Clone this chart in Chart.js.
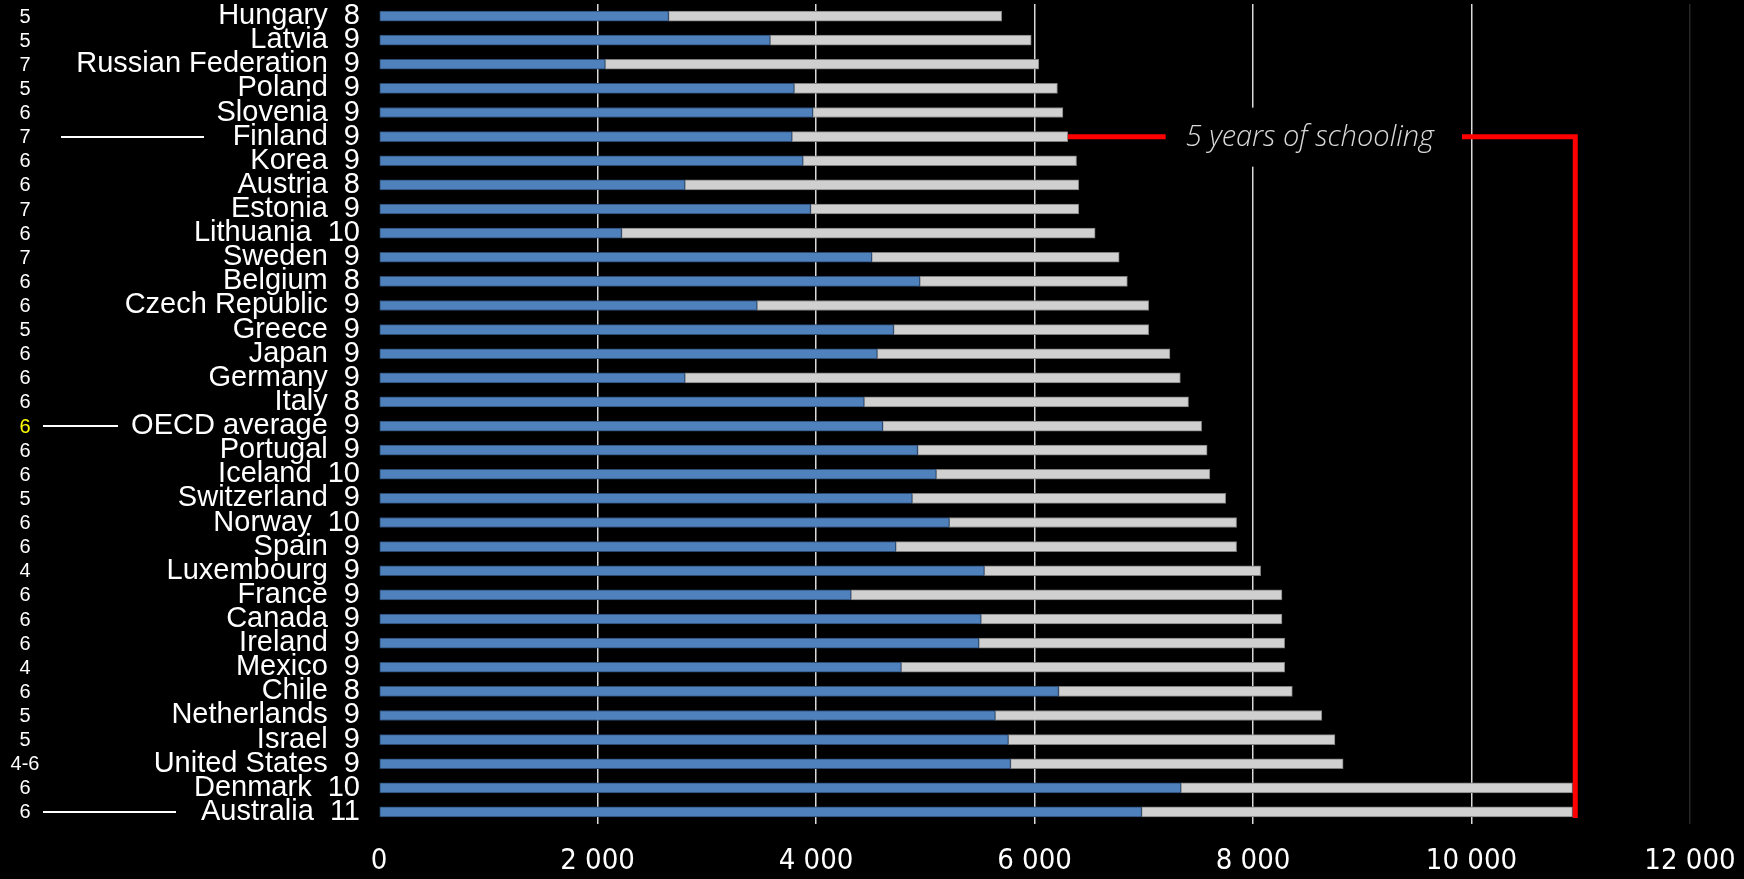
<!DOCTYPE html>
<html>
<head>
<meta charset="utf-8">
<title>Instruction time in compulsory education</title>
<script src="https://cdn.jsdelivr.net/npm/chart.js@4.4.1/dist/chart.umd.min.js"></script>
<style>
    html, body { margin: 0; padding: 0; background: #000; }
    #wrap { width: 1744px; height: 879px; position: relative; }
</style>
</head>
<body>
<div id="wrap"><canvas id="timeChart"></canvas></div>
<script>
// ===== DATA =====
const countries = [
    'Hungary', 'Latvia', 'Russian Federation', 'Poland', 'Slovenia', 'Finland',
    'Korea', 'Austria', 'Estonia', 'Lithuania', 'Sweden', 'Belgium',
    'Czech Republic', 'Greece', 'Japan', 'Germany', 'Italy', 'OECD average',
    'Portugal', 'Iceland', 'Switzerland', 'Norway', 'Spain', 'Luxembourg',
    'France', 'Canada', 'Ireland', 'Mexico', 'Chile', 'Netherlands',
    'Israel', 'United States', 'Denmark', 'Australia'
];
const compulsoryYears = [8, 9, 9, 9, 9, 9, 9, 8, 9, 10, 9, 8, 9, 9, 9, 9, 8, 9,
                         9, 10, 9, 10, 9, 9, 9, 9, 9, 9, 8, 9, 9, 9, 10, 11];
const startAge = ['5', '5', '7', '5', '6', '7', '6', '6', '7', '6', '7', '6',
                  '6', '5', '6', '6', '6', '6', '6', '6', '5', '6', '6', '4',
                  '6', '6', '6', '4', '6', '5', '5', '4-6', '6', '6'];
// blue part (primary) and where the grey part ends (total hours)
const primaryHours = [2650, 3580, 2070, 3800, 3970, 3780, 3880, 2800, 3950, 2220, 4510, 4950,
                      3460, 4710, 4560, 2800, 4440, 4610, 4930, 5100, 4880, 5220, 4730, 5540,
                      4320, 5510, 5490, 4780, 6220, 5640, 5760, 5780, 7340, 6980];
const totalHours = [5700, 5970, 6040, 6210, 6260, 6305, 6385, 6405, 6405, 6555, 6775, 6850,
                    7045, 7045, 7240, 7335, 7410, 7530, 7580, 7605, 7750, 7850, 7850, 8070,
                    8265, 8265, 8290, 8290, 8360, 8630, 8750, 8825, 10925, 10925];
const xTicks = [0, 2000, 4000, 6000, 8000, 10000, 12000];

// red bracket: "5 years of schooling"
const bracketRow = 'Finland';
const bracketEnd = 10950;
const bracketLabel = '5 years of schooling';
const bracketLabelAt = 8520;
const highlightRow = 'OECD average';

// white marker lines in the left margin (canvas px)
const markerLines = {
    'Finland': [61, 204],
    'OECD average': [43, 118],
    'Australia': [43, 176]
};

const LABEL_FONT = '"Liberation Sans", Arial, sans-serif';

function spaced(v) {
    return String(v).replace(/\B(?=(\d{3})+(?!\d))/g, ' ');
}

// ===== OVERLAY: start ages, marker lines, red bracket =====
const overlayPlugin = {
    id: 'overlay',
    afterDatasetsDraw(chart) {
        const ctx = chart.ctx;
        const xs = chart.scales.x;
        const ys = chart.scales.y;
        ctx.save();

        // start age column
        ctx.font = '20px ' + LABEL_FONT;
        ctx.textAlign = 'center';
        ctx.textBaseline = 'middle';
        startAge.forEach((a, i) => {
            ctx.fillStyle = countries[i] === highlightRow ? '#ffff00' : '#ffffff';
            ctx.fillText(a, 25, ys.getPixelForValue(i) + 1);
        });

        // white lines
        ctx.strokeStyle = '#ffffff';
        ctx.lineWidth = 2;
        Object.entries(markerLines).forEach(([name, [x1, x2]]) => {
            const yy = Math.round(ys.getPixelForValue(countries.indexOf(name)));
            ctx.beginPath();
            ctx.moveTo(x1, yy);
            ctx.lineTo(x2, yy);
            ctx.stroke();
        });

        // red bracket
        const row = countries.indexOf(bracketRow);
        const by = ys.getPixelForValue(row);
        const bx0 = xs.getPixelForValue(totalHours[row]);
        const bx1 = xs.getPixelForValue(bracketEnd);
        const bottom = ys.getPixelForValue(countries.length - 1) + 6;
        ctx.strokeStyle = '#ff0000';
        ctx.lineWidth = 5;
        ctx.lineJoin = 'miter';
        ctx.beginPath();
        ctx.moveTo(bx0, by);
        ctx.lineTo(bx1, by);
        ctx.lineTo(bx1, bottom);
        ctx.stroke();

        // label on a black box (hides the red line and the grid behind it)
        ctx.font = 'italic 300 29px "Open Sans", sans-serif';
        const lx = xs.getPixelForValue(bracketLabelAt);
        const w = ctx.measureText(bracketLabel).width;
        ctx.fillStyle = '#000000';
        ctx.fillRect(lx - w / 2 - 20, by - 29, w + 48, 59);
        ctx.fillStyle = '#d9d9d9';
        ctx.textAlign = 'center';
        ctx.fillText(bracketLabel, lx, by + 1);

        ctx.restore();
    }
};

// ===== CHART =====
const ctx = document.getElementById('timeChart').getContext('2d');
const timeChart = new Chart(ctx, {
    type: 'bar',
    data: {
        labels: countries.map((c, i) => c + '  ' + compulsoryYears[i]),
        datasets: [
            {
                label: 'Primary',
                data: primaryHours,
                backgroundColor: '#4f81bd',
                borderColor: '#2b4a70',
                borderWidth: 1,
                borderSkipped: false,
                barThickness: 10
            },
            {
                label: 'Lower secondary',
                data: primaryHours.map((p, i) => [p, totalHours[i]]),
                backgroundColor: '#d0d0d0',
                borderColor: '#7f7f7f',
                borderWidth: 1,
                borderSkipped: false,
                barThickness: 10
            }
        ]
    },
    options: {
        indexAxis: 'y',
        responsive: true,
        maintainAspectRatio: false,
        animation: false,
        grouped: false,
        layout: { padding: { top: 4, right: 54, left: 0, bottom: 0 } },
        plugins: {
            legend: { display: false },
            tooltip: { enabled: false }
        },
        scales: {
            x: {
                min: xTicks[0],
                max: xTicks[xTicks.length - 1],
                ticks: {
                    stepSize: xTicks[1] - xTicks[0],
                    color: '#ffffff',
                    padding: 20,
                    maxRotation: 0,
                    font: { family: '"Liberation Sans Narrow", "DejaVu Sans Condensed", sans-serif', size: 29 },
                    callback: v => spaced(v)
                },
                grid: {
                    drawTicks: false,
                    lineWidth: 1.5,
                    color: c => {
                        const v = c.tick ? c.tick.value : null;
                        if (v === 0) return 'rgba(0,0,0,0)';
                        if (v === 12000) return '#262626';
                        return '#d9d9d9';
                    }
                },
                border: { display: false },
                afterFit: s => {
                    s.height = 55;
                    s.paddingLeft = 0;
                    s.paddingRight = 0;
                }
            },
            y: {
                ticks: {
                    color: '#ffffff',
                    padding: 19,
                    autoSkip: false,
                    font: { family: LABEL_FONT, size: 29 }
                },
                grid: { display: false, drawTicks: false },
                border: { display: false },
                afterFit: s => {
                    s.width = 379;
                    s.paddingTop = 0;
                    s.paddingBottom = 0;
                }
            }
        }
    },
    plugins: [overlayPlugin]
});
</script>
</body>
</html>
